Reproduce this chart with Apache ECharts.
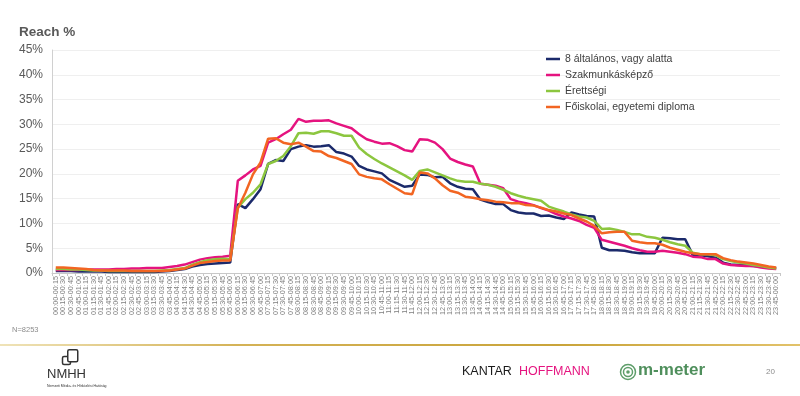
<!DOCTYPE html>
<html>
<head>
<meta charset="utf-8">
<script src="https://cdn.jsdelivr.net/npm/echarts@6/dist/echarts.min.js"></script>
<style>
html,body{margin:0;padding:0;background:#fff;}
#chart{width:800px;height:396px;}
</style>
</head>
<body>
<div id="chart"></div>
<script>
const categories = ["00:00-00:15","00:15-00:30","00:30-00:45","00:45-01:00","01:00-01:15","01:15-01:30","01:30-01:45","01:45-02:00",
"02:00-02:15","02:15-02:30","02:30-02:45","02:45-03:00","03:00-03:15","03:15-03:30","03:30-03:45","03:45-04:00",
"04:00-04:15","04:15-04:30","04:30-04:45","04:45-05:00","05:00-05:15","05:15-05:30","05:30-05:45","05:45-06:00",
"06:00-06:15","06:15-06:30","06:30-06:45","06:45-07:00","07:00-07:15","07:15-07:30","07:30-07:45","07:45-08:00",
"08:00-08:15","08:15-08:30","08:30-08:45","08:45-09:00","09:00-09:15","09:15-09:30","09:30-09:45","09:45-10:00",
"10:00-10:15","10:15-10:30","10:30-10:45","10:45-11:00","11:00-11:15","11:15-11:30","11:30-11:45","11:45-12:00",
"12:00-12:15","12:15-12:30","12:30-12:45","12:45-13:00","13:00-13:15","13:15-13:30","13:30-13:45","13:45-14:00",
"14:00-14:15","14:15-14:30","14:30-14:45","14:45-15:00","15:00-15:15","15:15-15:30","15:30-15:45","15:45-16:00",
"16:00-16:15","16:15-16:30","16:30-16:45","16:45-17:00","17:00-17:15","17:15-17:30","17:30-17:45","17:45-18:00",
"18:00-18:15","18:15-18:30","18:30-18:45","18:45-19:00","19:00-19:15","19:15-19:30","19:30-19:45","19:45-20:00",
"20:00-20:15","20:15-20:30","20:30-20:45","20:45-21:00","21:00-21:15","21:15-21:30","21:30-21:45","21:45-22:00",
"22:00-22:15","22:15-22:30","22:30-22:45","22:45-23:00","23:00-23:15","23:15-23:30","23:30-23:45","23:45-00:00"];

const seriesNames = ["8 általános, vagy alatta","Szakmunkásképző","Érettségi","Főiskolai, egyetemi diploma"];

const elementary = [0.4,0.4,0.4,0.3,0.3,0.3,0.3,0.2,0.2,0.2,0.2,0.2,0.2,0.2,0.3,0.4,0.6,0.8,1.3,1.6,1.8,1.9,2.0,2.1,
13.9,13.1,14.9,16.9,22.0,22.8,22.6,25.0,25.5,25.8,25.5,25.6,25.8,24.4,24.1,23.5,
21.6,20.9,20.5,20.1,18.8,18.1,17.4,17.6,19.9,19.8,19.3,19.4,18.1,17.4,17.0,16.9,
14.8,14.3,13.9,13.9,12.7,12.2,12.0,12.0,11.5,11.6,11.2,10.9,12.2,11.8,11.5,11.4,
5.1,4.6,4.6,4.5,4.2,4.0,4.0,4.0,7.1,7.0,6.8,6.8,3.6,3.6,3.4,3.1,2.1,1.7,1.6,1.5,1.4,1.3,1.1,0.9];

const vocational = [0.6,0.6,0.6,0.6,0.7,0.7,0.7,0.7,0.8,0.8,0.9,0.9,1.0,1.0,1.0,1.2,1.4,1.7,2.2,2.7,3.0,3.2,3.3,3.5,
18.6,19.7,20.9,21.6,26.3,27.0,28.0,28.9,31.1,30.5,30.7,30.7,30.8,30.2,29.7,29.2,
28.0,27.0,26.5,26.1,26.2,25.6,24.8,24.5,27.0,26.9,26.3,25.0,23.1,22.4,21.9,21.5,
18.0,17.8,17.6,17.1,14.9,14.4,14.1,13.7,13.1,12.6,11.9,11.4,11.0,10.5,9.7,9.1,
6.7,6.3,5.9,5.5,5.0,4.6,4.3,4.3,4.5,4.3,4.1,3.8,3.3,3.2,2.8,2.8,1.9,1.6,1.5,1.4,1.4,1.1,0.9,0.8];

const secondary = [0.8,0.8,0.7,0.7,0.6,0.5,0.5,0.4,0.4,0.4,0.4,0.4,0.4,0.4,0.5,0.6,0.8,1.0,1.7,2.2,2.6,2.8,2.9,2.8,
13.2,14.9,16.2,17.9,22.0,22.6,23.6,25.6,28.2,28.3,28.1,28.6,28.6,28.2,27.7,27.7,
25.3,24.0,23.0,22.1,21.3,20.5,19.7,18.8,20.6,20.9,20.3,19.7,19.1,18.6,18.4,18.4,
18.0,17.8,17.4,16.8,16.1,15.6,15.2,14.9,14.6,13.4,12.9,12.4,11.8,11.4,11.2,10.5,
8.9,9.0,8.7,8.3,7.8,7.8,7.3,7.1,6.7,6.2,5.8,5.5,4.1,3.8,3.8,3.6,2.8,2.4,2.1,1.9,1.6,1.4,1.1,0.9];

const higher = [1.1,1.1,1.0,0.9,0.8,0.6,0.5,0.5,0.5,0.5,0.4,0.4,0.4,0.4,0.4,0.5,0.7,0.9,1.5,2.0,2.2,2.4,2.5,2.5,
13.0,16.2,19.9,22.3,27.1,27.2,26.3,26.0,26.3,25.5,24.6,24.5,23.6,23.2,22.6,22.0,
19.9,19.4,19.1,18.9,17.9,17.0,16.1,15.9,20.3,20.1,19.1,17.7,16.6,16.2,15.4,15.2,
14.9,14.7,14.4,14.3,14.1,14.1,13.7,13.6,13.2,12.7,12.4,12.0,11.7,11.0,10.4,9.5,
8.0,8.2,8.3,8.3,6.5,6.2,6.0,6.0,5.7,5.1,4.7,4.3,4.0,3.8,3.8,3.8,3.0,2.6,2.3,2.1,1.9,1.6,1.3,1.1];

const seriesColors = ["#1b2a6b","#e5137f","#8cc63f","#f26522"];
const yTicks = {min:0, max:45, interval:5};

const FONT = "'Liberation Sans', Arial, sans-serif";
const chart = echarts.init(document.getElementById('chart'), null, {renderer:'canvas'});
const dataSets = [elementary, vocational, secondary, higher];

chart.setOption({
  animation:false,
  backgroundColor:'#ffffff',
  textStyle:{fontFamily:FONT},
  title:{text:'Reach %', left:19, top:25, padding:0, textStyle:{fontFamily:FONT, fontSize:13.5, fontWeight:'bold', color:'#595959'}},
  legend:{
    orient:'vertical', left:546, top:53, padding:0, icon:'rect', itemWidth:14, itemHeight:2.5, itemGap:4,
    textStyle:{fontFamily:FONT, fontSize:10.5, color:'#404040', lineHeight:12},
    data:seriesNames
  },
  grid:{left:52, right:20, top:50, bottom:123, containLabel:false},
  xAxis:{
    type:'category', data:categories, boundaryGap:true,
    axisLine:{show:true, lineStyle:{color:'#c8c8c8', width:1}},
    axisTick:{show:true, interval:0, length:3, lineStyle:{color:'#c8c8c8'}},
    axisLabel:{interval:0, rotate:90, fontSize:7.3, color:'#7f7f7f', margin:3, fontFamily:FONT}
  },
  yAxis:{
    type:'value', min:yTicks.min, max:yTicks.max, interval:yTicks.interval,
    axisLine:{show:true, lineStyle:{color:'#d0d0d0'}},
    axisTick:{show:false},
    splitLine:{lineStyle:{color:'#efefef', width:1}},
    axisLabel:{formatter:'{value}%', fontSize:12, color:'#595959', margin:9, fontFamily:FONT}
  },
  series: seriesNames.map((n,i)=>({
    name:n, type:'line', data:dataSets[i], symbol:'none', smooth:false,
    lineStyle:{width:2.5, color:seriesColors[i]}, itemStyle:{color:seriesColors[i]}
  })),
  graphic:[
    {type:'text', left:12, top:326, style:{text:'N=8253', font:'7.5px '+FONT, fill:'#8c8c8c'}},
    {type:'rect', left:0, top:344, shape:{width:800, height:2},
      style:{fill:new echarts.graphic.LinearGradient(0,0,1,0,[{offset:0,color:'#efe3b8'},{offset:0.3,color:'#d4b256'},{offset:0.7,color:'#c9a43a'},{offset:1,color:'#e2c26a'}])}},
    // NMHH logo
    {type:'rect', left:60, top:354, shape:{width:8, height:8, r:1.5}, style:{fill:'none', stroke:'#333', lineWidth:1.5}},
    {type:'rect', left:67, top:349, shape:{width:10, height:12, r:1.5}, style:{fill:'#fff', stroke:'#333', lineWidth:1.5}},
    {type:'text', left:47, top:368, style:{text:'NMHH', font:'13px '+FONT, fill:'#333', letterSpacing:-1}},
    {type:'text', left:47, top:384, style:{text:'Nemzeti Média- és Hírközlési Hatóság', font:'3.5px '+FONT, fill:'#333'}},
    // Kantar Hoffmann
    {type:'text', left:462, top:365, style:{text:'KANTAR', font:'500 12.5px '+FONT, fill:'#1a1a1a'}},
    {type:'text', left:519, top:365, style:{text:'HOFFMANN', font:'12.5px '+FONT, fill:'#e5137f'}},
    // m-meter
    {type:'circle', shape:{cx:628, cy:372, r:7.5}, style:{fill:'none', stroke:'#5e9e6a', lineWidth:1.5}},
    {type:'circle', shape:{cx:628, cy:372, r:4.5}, style:{fill:'none', stroke:'#5e9e6a', lineWidth:1.5}},
    {type:'circle', shape:{cx:628, cy:372, r:1.8}, style:{fill:'#5e9e6a'}},
    {type:'text', left:638, top:362, style:{text:'m-meter', font:'bold 17px '+FONT, fill:'#4f8f5c'}},
    {type:'text', left:766, top:368, style:{text:'20', font:'8px '+FONT, fill:'#8c8c8c'}}
  ]
});
</script>
</body>
</html>
